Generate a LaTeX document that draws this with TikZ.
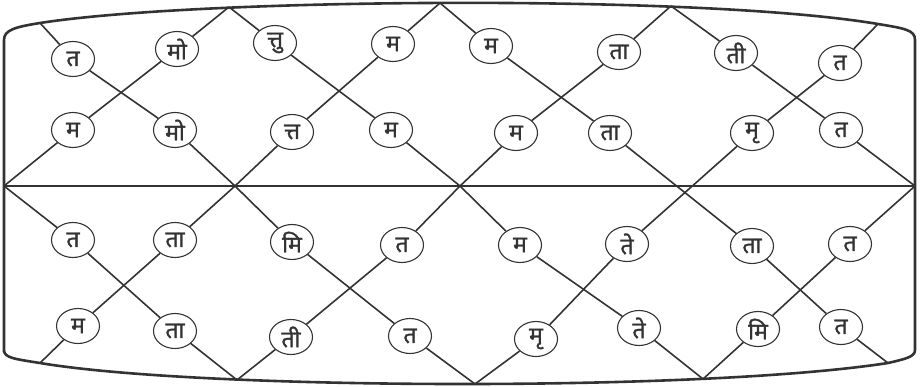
\documentclass[tikz,border=0pt]{standalone}
\usepackage{fontspec}
\usetikzlibrary{shapes.geometric}
\newfontfamily\deva[Script=Devanagari,FakeBold=1.3]{Noto Sans}
\definecolor{ink}{HTML}{333333}
\tikzset{
  syl/.style={ellipse, draw=ink, line width=1.1pt, fill=white, inner sep=0pt,
    minimum width=43pt, minimum height=35pt, text=ink, font=\deva\fontsize{23}{25}\selectfont},
  strand/.style={draw=ink, line width=1.6pt},
  rim/.style={draw=ink, line width=2.6pt},
  mid/.style={draw=ink, line width=2.2pt}
}
\begin{document}
\begin{tikzpicture}[x=1pt,y=-1pt]
\useasboundingbox (0,0) rectangle (920,386);

% points where the strands meet the rim and the middle line
\coordinate (ml) at (4,186);
\coordinate (mr) at (915,186);
\coordinate (m1) at (235,186);
\coordinate (m2) at (460,186);
\coordinate (t0) at (40,23);
\coordinate (t1) at (229,7);
\coordinate (t2) at (440,3);
\coordinate (t3) at (671,6);
\coordinate (t4) at (878,24);
\coordinate (b0) at (40,363);
\coordinate (b1) at (237,380);
\coordinate (b2) at (475,384);
\coordinate (b3) at (703,379);
\coordinate (b4) at (888,363);

% upper half, first row
\node[syl] (a1) at (73,59) {त};
\node[syl] (a2) at (177,49) {मो};
\node[syl] (a3) at (275,43) {त्तु};
\node[syl] (a4) at (393,44) {म};
\node[syl] (a5) at (491,46) {म};
\node[syl] (a6) at (619,52) {ता};
\node[syl] (a7) at (736,53) {ती};
\node[syl] (a8) at (840,63) {त};
% upper half, second row
\node[syl] (b1n) at (73,130) {म};
\node[syl] (b2n) at (175,130) {मो};
\node[syl] (b3n) at (292,132) {त्त};
\node[syl] (b4n) at (391,130) {म};
\node[syl] (b5n) at (516,133) {म};
\node[syl] (b6n) at (610,133) {ता};
\node[syl] (b7n) at (752,133) {मृ};
\node[syl] (b8n) at (841,130) {त};
% lower half, first row
\node[syl] (c1) at (73,240) {त};
\node[syl] (c2) at (175,240) {ता};
\node[syl] (c3) at (292,242) {मि};
\node[syl] (c4) at (402,245) {त};
\node[syl] (c5) at (520,245) {म};
\node[syl] (c6) at (627,244) {ते};
\node[syl] (c7) at (752,246) {ता};
\node[syl] (c8) at (850,244) {त};
% lower half, second row
\node[syl] (d1) at (78,326) {म};
\node[syl] (d2) at (175,331) {ता};
\node[syl] (d3) at (291,337) {ती};
\node[syl] (d4) at (410,336) {त};
\node[syl] (d5) at (536,339) {मृ};
\node[syl] (d6) at (639,328) {ते};
\node[syl] (d7) at (758,329) {मि};
\node[syl] (d8) at (841,327) {त};

% rising strands
\draw[strand] (ml) -- (b1n) -- (a2) -- (t1);
\draw[strand] (b0) -- (d1) -- (c2) -- (m1) -- (b3n) -- (a4) -- (t2);
\draw[strand] (b1) -- (d3) -- (c4) -- (m2) -- (b5n) -- (a6) -- (t3);
\draw[strand] (b2) -- (d5) -- (c6) -- (b7n) -- (a8) -- (t4);
\draw[strand] (b3) -- (d7) -- (c8) -- (mr);
% falling strands
\draw[strand] (t0) -- (a1) -- (b2n) -- (m1) -- (c3) -- (d4) -- (b2);
\draw[strand] (ml) -- (c1) -- (d2) -- (b1);
\draw[strand] (t1) -- (a3) -- (b4n) -- (m2) -- (c5) -- (d6) -- (b3);
\draw[strand] (t2) -- (a5) -- (b6n) -- (c7) -- (d8) -- (b4);
\draw[strand] (t3) -- (a7) -- (b8n) -- (mr);

% middle line
\draw[mid] (ml) -- (mr);

% outer rim
\draw[rim] (4,352) -- (4,40) .. controls (4,30) and (15,27) .. (t0)
  .. controls (200,-2) and (700,-6) .. (t4)
  .. controls (905,28.5) and (915,30) .. (915,40) -- (915,350)
  .. controls (915,357) and (905,359) .. (b4)
  .. controls (700,392) and (200,390) .. (b0)
  .. controls (15,359) and (4,358) .. (4,350) -- cycle;
\end{tikzpicture}
\end{document}
